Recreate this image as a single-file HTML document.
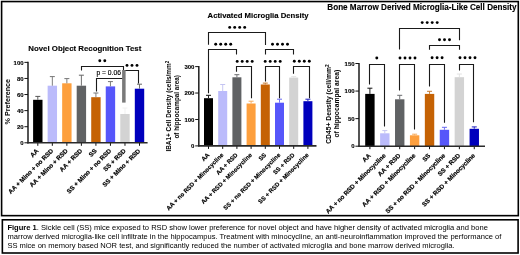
<!DOCTYPE html><html><head><meta charset="utf-8"><style>html,body{margin:0;padding:0;background:#fff;}svg{display:block;will-change:transform;}text{font-family:"Liberation Sans",sans-serif;fill:#000;}</style></head><body>
<svg width="520" height="255" viewBox="0 0 520 255">
<rect x="0" y="0" width="520" height="255" fill="#fff"/>
<rect x="1.6" y="1.55" width="516.7" height="214.1" fill="none" stroke="#000" stroke-width="1.6"/>
<rect x="2.35" y="219.8" width="515.75" height="33.2" fill="none" stroke="#000" stroke-width="1.6"/>
<line x1="28" y1="61.8" x2="28" y2="143.4" stroke="#2a2a2a" stroke-width="1.6"/>
<line x1="24.4" y1="142.8" x2="28" y2="142.8" stroke="#111" stroke-width="1"/>
<text x="23.6" y="144.96" text-anchor="end" font-weight="bold" font-size="6.0" stroke="#000" stroke-width="0.12">0</text>
<line x1="24.4" y1="126.71" x2="28" y2="126.71" stroke="#111" stroke-width="1"/>
<text x="23.6" y="128.87" text-anchor="end" font-weight="bold" font-size="6.0" stroke="#000" stroke-width="0.12">20</text>
<line x1="24.4" y1="110.62" x2="28" y2="110.62" stroke="#111" stroke-width="1"/>
<text x="23.6" y="112.78" text-anchor="end" font-weight="bold" font-size="6.0" stroke="#000" stroke-width="0.12">40</text>
<line x1="24.4" y1="94.54" x2="28" y2="94.54" stroke="#111" stroke-width="1"/>
<text x="23.6" y="96.7" text-anchor="end" font-weight="bold" font-size="6.0" stroke="#000" stroke-width="0.12">60</text>
<line x1="24.4" y1="78.45" x2="28" y2="78.45" stroke="#111" stroke-width="1"/>
<text x="23.6" y="80.61" text-anchor="end" font-weight="bold" font-size="6.0" stroke="#000" stroke-width="0.12">80</text>
<line x1="24.4" y1="62.36" x2="28" y2="62.36" stroke="#111" stroke-width="1"/>
<text x="23.6" y="64.52" text-anchor="end" font-weight="bold" font-size="6.0" stroke="#000" stroke-width="0.12">100</text>
<rect x="33.1" y="99.8" width="9.4" height="43" fill="#000000"/>
<line x1="37.8" y1="99.8" x2="37.8" y2="96.4" stroke="#555" stroke-width="0.95"/>
<line x1="35.3" y1="96.4" x2="40.3" y2="96.4" stroke="#555" stroke-width="1"/>
<line x1="37.8" y1="142.8" x2="37.8" y2="145.8" stroke="#111" stroke-width="1"/>
<text x="39.1" y="151.4" text-anchor="end" font-weight="bold" font-size="6.3" stroke="#000" stroke-width="0.18" transform="rotate(-45 39.1 151.4)">AA</text>
<rect x="47.63" y="85.7" width="9.4" height="57.1" fill="#bbbbfb"/>
<line x1="52.33" y1="85.7" x2="52.33" y2="76.6" stroke="#777" stroke-width="0.95"/>
<line x1="49.83" y1="76.6" x2="54.83" y2="76.6" stroke="#777" stroke-width="1"/>
<line x1="52.33" y1="142.8" x2="52.33" y2="145.8" stroke="#111" stroke-width="1"/>
<text x="53.63" y="151.4" text-anchor="end" font-weight="bold" font-size="6.3" stroke="#000" stroke-width="0.18" transform="rotate(-45 53.63 151.4)">AA + Mino + no RSD</text>
<rect x="62.16" y="83.3" width="9.4" height="59.5" fill="#fd9f3d"/>
<line x1="66.86" y1="83.3" x2="66.86" y2="78.6" stroke="#777" stroke-width="0.95"/>
<line x1="64.36" y1="78.6" x2="69.36" y2="78.6" stroke="#777" stroke-width="1"/>
<line x1="66.86" y1="142.8" x2="66.86" y2="145.8" stroke="#111" stroke-width="1"/>
<text x="68.16" y="151.4" text-anchor="end" font-weight="bold" font-size="6.3" stroke="#000" stroke-width="0.18" transform="rotate(-45 68.16 151.4)">AA + Mino + RSD</text>
<rect x="76.69" y="85.7" width="9.4" height="57.1" fill="#606264"/>
<line x1="81.39" y1="85.7" x2="81.39" y2="75.2" stroke="#666" stroke-width="0.95"/>
<line x1="78.89" y1="75.2" x2="83.89" y2="75.2" stroke="#666" stroke-width="1"/>
<line x1="81.39" y1="142.8" x2="81.39" y2="145.8" stroke="#111" stroke-width="1"/>
<text x="82.69" y="151.4" text-anchor="end" font-weight="bold" font-size="6.3" stroke="#000" stroke-width="0.18" transform="rotate(-45 82.69 151.4)">AA + RSD</text>
<rect x="91.22" y="97.2" width="9.4" height="45.6" fill="#c56204"/>
<line x1="95.92" y1="97.2" x2="95.92" y2="93" stroke="#777" stroke-width="0.95"/>
<line x1="93.42" y1="93" x2="98.42" y2="93" stroke="#777" stroke-width="1"/>
<line x1="95.92" y1="142.8" x2="95.92" y2="145.8" stroke="#111" stroke-width="1"/>
<text x="97.22" y="151.4" text-anchor="end" font-weight="bold" font-size="6.3" stroke="#000" stroke-width="0.18" transform="rotate(-45 97.22 151.4)">SS</text>
<rect x="105.75" y="86.4" width="9.4" height="56.4" fill="#5656fa"/>
<line x1="110.45" y1="86.4" x2="110.45" y2="81.6" stroke="#777" stroke-width="0.95"/>
<line x1="107.95" y1="81.6" x2="112.95" y2="81.6" stroke="#777" stroke-width="1"/>
<line x1="110.45" y1="142.8" x2="110.45" y2="145.8" stroke="#111" stroke-width="1"/>
<text x="111.75" y="151.4" text-anchor="end" font-weight="bold" font-size="6.3" stroke="#000" stroke-width="0.18" transform="rotate(-45 111.75 151.4)">SS + Mino + no RSD</text>
<rect x="120.28" y="114" width="9.4" height="28.8" fill="#d3d3d3"/>
<line x1="124.98" y1="114" x2="124.98" y2="108" stroke="#f0f0f0" stroke-width="0.95"/>
<line x1="122.48" y1="108" x2="127.48" y2="108" stroke="#f0f0f0" stroke-width="1"/>
<line x1="124.98" y1="142.8" x2="124.98" y2="145.8" stroke="#111" stroke-width="1"/>
<text x="126.28" y="151.4" text-anchor="end" font-weight="bold" font-size="6.3" stroke="#000" stroke-width="0.18" transform="rotate(-45 126.28 151.4)">SS + RSD</text>
<rect x="134.81" y="88.7" width="9.4" height="54.1" fill="#0000bd"/>
<line x1="139.51" y1="88.7" x2="139.51" y2="84.2" stroke="#666" stroke-width="0.95"/>
<line x1="137.01" y1="84.2" x2="142.01" y2="84.2" stroke="#666" stroke-width="1"/>
<line x1="139.51" y1="142.8" x2="139.51" y2="145.8" stroke="#111" stroke-width="1"/>
<text x="140.81" y="151.4" text-anchor="end" font-weight="bold" font-size="6.3" stroke="#000" stroke-width="0.18" transform="rotate(-45 140.81 151.4)">SS + Mino + RSD</text>
<line x1="27.4" y1="142.8" x2="147.6" y2="142.8" stroke="#2a2a2a" stroke-width="1.6"/>
<text x="28.3" y="51" font-weight="bold" font-size="7.84" stroke="#000" stroke-width="0.12">Novel Object Recognition Test</text>
<text x="9.6" y="101.7" text-anchor="middle" font-weight="bold" font-size="7.2" transform="rotate(-90 9.6 101.7)">% Preference</text>
<path d="M81.5 70.5V66.5H123.5V70.5" fill="none" stroke="#1a1a1a" stroke-width="1.1"/>
<path d="M96.5 91.5V78.5H123.5V79" fill="none" stroke="#1a1a1a" stroke-width="1.1"/>
<path d="M124.5 71V70.5H138.5V83.5" fill="none" stroke="#1a1a1a" stroke-width="1.1"/>
<circle cx="99.8" cy="60.8" r="1.45" fill="#000"/>
<circle cx="104.8" cy="60.8" r="1.45" fill="#000"/>
<circle cx="127" cy="65.4" r="1.45" fill="#000"/>
<circle cx="132" cy="65.4" r="1.45" fill="#000"/>
<circle cx="137" cy="65.4" r="1.45" fill="#000"/>
<line x1="198.8" y1="66" x2="198.8" y2="146.5" stroke="#2a2a2a" stroke-width="1.6"/>
<line x1="195.2" y1="145.9" x2="198.8" y2="145.9" stroke="#111" stroke-width="1"/>
<text x="194.4" y="148.06" text-anchor="end" font-weight="bold" font-size="6.0" stroke="#000" stroke-width="0.12">0</text>
<line x1="195.2" y1="119.47" x2="198.8" y2="119.47" stroke="#111" stroke-width="1"/>
<text x="194.4" y="121.63" text-anchor="end" font-weight="bold" font-size="6.0" stroke="#000" stroke-width="0.12">100</text>
<line x1="195.2" y1="93.04" x2="198.8" y2="93.04" stroke="#111" stroke-width="1"/>
<text x="194.4" y="95.2" text-anchor="end" font-weight="bold" font-size="6.0" stroke="#000" stroke-width="0.12">200</text>
<line x1="195.2" y1="66.61" x2="198.8" y2="66.61" stroke="#111" stroke-width="1"/>
<text x="194.4" y="68.77" text-anchor="end" font-weight="bold" font-size="6.0" stroke="#000" stroke-width="0.12">300</text>
<rect x="204" y="98.2" width="9" height="47.7" fill="#000000"/>
<line x1="208.5" y1="98.2" x2="208.5" y2="95.3" stroke="#111" stroke-width="0.95"/>
<line x1="206" y1="95.3" x2="211" y2="95.3" stroke="#111" stroke-width="1"/>
<line x1="208.5" y1="145.9" x2="208.5" y2="148.9" stroke="#111" stroke-width="1"/>
<text x="209.8" y="155.4" text-anchor="end" font-weight="bold" font-size="6.0" stroke="#000" stroke-width="0.18" transform="rotate(-45 209.8 155.4)">AA</text>
<rect x="218.2" y="91" width="9" height="54.9" fill="#bbbbfb"/>
<line x1="222.7" y1="91" x2="222.7" y2="84.5" stroke="#c4c4f2" stroke-width="0.95"/>
<line x1="220.2" y1="84.5" x2="225.2" y2="84.5" stroke="#c4c4f2" stroke-width="1"/>
<line x1="222.7" y1="145.9" x2="222.7" y2="148.9" stroke="#111" stroke-width="1"/>
<text x="224" y="155.4" text-anchor="end" font-weight="bold" font-size="6.0" stroke="#000" stroke-width="0.18" transform="rotate(-45 224 155.4)">AA + no RSD + Minocycline</text>
<rect x="232.4" y="77.3" width="9" height="68.6" fill="#606264"/>
<line x1="236.9" y1="77.3" x2="236.9" y2="74.7" stroke="#6a6c6e" stroke-width="0.95"/>
<line x1="234.4" y1="74.7" x2="239.4" y2="74.7" stroke="#6a6c6e" stroke-width="1"/>
<line x1="236.9" y1="145.9" x2="236.9" y2="148.9" stroke="#111" stroke-width="1"/>
<text x="238.2" y="155.4" text-anchor="end" font-weight="bold" font-size="6.0" stroke="#000" stroke-width="0.18" transform="rotate(-45 238.2 155.4)">AA + RSD</text>
<rect x="246.6" y="103.5" width="9" height="42.4" fill="#fd9f3d"/>
<line x1="251.1" y1="103.5" x2="251.1" y2="101.2" stroke="#f6ab5c" stroke-width="0.95"/>
<line x1="248.6" y1="101.2" x2="253.6" y2="101.2" stroke="#f6ab5c" stroke-width="1"/>
<line x1="251.1" y1="145.9" x2="251.1" y2="148.9" stroke="#111" stroke-width="1"/>
<text x="252.4" y="155.4" text-anchor="end" font-weight="bold" font-size="6.0" stroke="#000" stroke-width="0.18" transform="rotate(-45 252.4 155.4)">AA + RSD + Minocycline</text>
<rect x="260.8" y="84.5" width="9" height="61.4" fill="#c56204"/>
<line x1="265.3" y1="84.5" x2="265.3" y2="83.1" stroke="#c67a30" stroke-width="0.95"/>
<line x1="262.8" y1="83.1" x2="267.8" y2="83.1" stroke="#c67a30" stroke-width="1"/>
<line x1="265.3" y1="145.9" x2="265.3" y2="148.9" stroke="#111" stroke-width="1"/>
<text x="266.6" y="155.4" text-anchor="end" font-weight="bold" font-size="6.0" stroke="#000" stroke-width="0.18" transform="rotate(-45 266.6 155.4)">SS</text>
<rect x="275" y="102.7" width="9" height="43.2" fill="#5656fa"/>
<line x1="279.5" y1="102.7" x2="279.5" y2="99.2" stroke="#6a6af2" stroke-width="0.95"/>
<line x1="277" y1="99.2" x2="282" y2="99.2" stroke="#6a6af2" stroke-width="1"/>
<line x1="279.5" y1="145.9" x2="279.5" y2="148.9" stroke="#111" stroke-width="1"/>
<text x="280.8" y="155.4" text-anchor="end" font-weight="bold" font-size="6.0" stroke="#000" stroke-width="0.18" transform="rotate(-45 280.8 155.4)">SS + no RSD + Minocycline</text>
<rect x="289.2" y="77.6" width="9" height="68.3" fill="#d3d3d3"/>
<line x1="293.7" y1="77.6" x2="293.7" y2="76.7" stroke="#e2e2e2" stroke-width="0.95"/>
<line x1="291.2" y1="76.7" x2="296.2" y2="76.7" stroke="#e2e2e2" stroke-width="1"/>
<line x1="293.7" y1="145.9" x2="293.7" y2="148.9" stroke="#111" stroke-width="1"/>
<text x="295" y="155.4" text-anchor="end" font-weight="bold" font-size="6.0" stroke="#000" stroke-width="0.18" transform="rotate(-45 295 155.4)">SS + RSD</text>
<rect x="303.4" y="101.2" width="9" height="44.7" fill="#0000bd"/>
<line x1="307.9" y1="101.2" x2="307.9" y2="99.2" stroke="#2020c0" stroke-width="0.95"/>
<line x1="305.4" y1="99.2" x2="310.4" y2="99.2" stroke="#2020c0" stroke-width="1"/>
<line x1="307.9" y1="145.9" x2="307.9" y2="148.9" stroke="#111" stroke-width="1"/>
<text x="309.2" y="155.4" text-anchor="end" font-weight="bold" font-size="6.0" stroke="#000" stroke-width="0.18" transform="rotate(-45 309.2 155.4)">SS + RSD + Minocycline</text>
<line x1="198.2" y1="145.9" x2="316.5" y2="145.9" stroke="#2a2a2a" stroke-width="1.6"/>
<text x="207.6" y="18.1" font-weight="bold" font-size="7.74" stroke="#000" stroke-width="0.12">Activated Microglia Density</text>
<text x="171.5" y="106.1" text-anchor="middle" font-weight="bold" font-size="6.43" transform="rotate(-90 171.5 106.1)">IBA1+ Cell Density (cells/mm<tspan dy="-2" font-size="4.6">2</tspan></text>
<text x="178.9" y="106.85" text-anchor="middle" font-weight="bold" font-size="6.3" transform="rotate(-90 178.9 106.85)">of hippocampal area)</text>
<path d="M208.5 44.7V32.5H265.5V45" fill="none" stroke="#1a1a1a" stroke-width="1.1"/>
<path d="M208.5 93.3V49.5H236.5V54.5" fill="none" stroke="#1a1a1a" stroke-width="1.1"/>
<path d="M236.5 71.8V66.5H251.5V98.2" fill="none" stroke="#1a1a1a" stroke-width="1.1"/>
<path d="M265.5 54.4V49.5H293.5V54.4" fill="none" stroke="#1a1a1a" stroke-width="1.1"/>
<path d="M265.5 81.5V66.5H279.5V98.2" fill="none" stroke="#1a1a1a" stroke-width="1.1"/>
<path d="M293.5 73.7V66.5H309.5V98.2" fill="none" stroke="#1a1a1a" stroke-width="1.1"/>
<circle cx="229.7" cy="27.4" r="1.45" fill="#000"/>
<circle cx="234.7" cy="27.4" r="1.45" fill="#000"/>
<circle cx="239.7" cy="27.4" r="1.45" fill="#000"/>
<circle cx="244.7" cy="27.4" r="1.45" fill="#000"/>
<circle cx="215.7" cy="44.2" r="1.45" fill="#000"/>
<circle cx="220.7" cy="44.2" r="1.45" fill="#000"/>
<circle cx="225.7" cy="44.2" r="1.45" fill="#000"/>
<circle cx="230.7" cy="44.2" r="1.45" fill="#000"/>
<circle cx="237.2" cy="61.4" r="1.45" fill="#000"/>
<circle cx="242.2" cy="61.4" r="1.45" fill="#000"/>
<circle cx="247.2" cy="61.4" r="1.45" fill="#000"/>
<circle cx="252.2" cy="61.4" r="1.45" fill="#000"/>
<circle cx="272.5" cy="44.2" r="1.45" fill="#000"/>
<circle cx="277.5" cy="44.2" r="1.45" fill="#000"/>
<circle cx="282.5" cy="44.2" r="1.45" fill="#000"/>
<circle cx="287.5" cy="44.2" r="1.45" fill="#000"/>
<circle cx="265.2" cy="61.4" r="1.45" fill="#000"/>
<circle cx="270.2" cy="61.4" r="1.45" fill="#000"/>
<circle cx="275.2" cy="61.4" r="1.45" fill="#000"/>
<circle cx="280.2" cy="61.4" r="1.45" fill="#000"/>
<circle cx="294.3" cy="61.2" r="1.45" fill="#000"/>
<circle cx="299.3" cy="61.2" r="1.45" fill="#000"/>
<circle cx="304.3" cy="61.2" r="1.45" fill="#000"/>
<circle cx="309.3" cy="61.2" r="1.45" fill="#000"/>
<line x1="359" y1="62.9" x2="359" y2="146.8" stroke="#2a2a2a" stroke-width="1.6"/>
<line x1="355.4" y1="146.2" x2="359" y2="146.2" stroke="#111" stroke-width="1"/>
<text x="354.6" y="148.36" text-anchor="end" font-weight="bold" font-size="6.0" stroke="#000" stroke-width="0.12">0</text>
<line x1="355.4" y1="118.63" x2="359" y2="118.63" stroke="#111" stroke-width="1"/>
<text x="354.6" y="120.79" text-anchor="end" font-weight="bold" font-size="6.0" stroke="#000" stroke-width="0.12">50</text>
<line x1="355.4" y1="91.07" x2="359" y2="91.07" stroke="#111" stroke-width="1"/>
<text x="354.6" y="93.23" text-anchor="end" font-weight="bold" font-size="6.0" stroke="#000" stroke-width="0.12">100</text>
<line x1="355.4" y1="63.5" x2="359" y2="63.5" stroke="#111" stroke-width="1"/>
<text x="354.6" y="65.66" text-anchor="end" font-weight="bold" font-size="6.0" stroke="#000" stroke-width="0.12">150</text>
<rect x="365.2" y="93.9" width="9.4" height="52.3" fill="#000000"/>
<line x1="369.9" y1="93.9" x2="369.9" y2="88.2" stroke="#111" stroke-width="0.95"/>
<line x1="367.4" y1="88.2" x2="372.4" y2="88.2" stroke="#111" stroke-width="1"/>
<line x1="369.9" y1="146.2" x2="369.9" y2="149.2" stroke="#111" stroke-width="1"/>
<text x="371.2" y="156" text-anchor="end" font-weight="bold" font-size="6.3" stroke="#000" stroke-width="0.18" transform="rotate(-45 371.2 156)">AA</text>
<rect x="380.11" y="133.3" width="9.4" height="12.9" fill="#bbbbfb"/>
<line x1="384.81" y1="133.3" x2="384.81" y2="130.6" stroke="#c4c4f2" stroke-width="0.95"/>
<line x1="382.31" y1="130.6" x2="387.31" y2="130.6" stroke="#c4c4f2" stroke-width="1"/>
<line x1="384.81" y1="146.2" x2="384.81" y2="149.2" stroke="#111" stroke-width="1"/>
<text x="386.11" y="156" text-anchor="end" font-weight="bold" font-size="6.3" stroke="#000" stroke-width="0.18" transform="rotate(-45 386.11 156)">AA + no RSD + Minocycline</text>
<rect x="395.02" y="99.3" width="9.4" height="46.9" fill="#606264"/>
<line x1="399.72" y1="99.3" x2="399.72" y2="95.3" stroke="#6a6c6e" stroke-width="0.95"/>
<line x1="397.22" y1="95.3" x2="402.22" y2="95.3" stroke="#6a6c6e" stroke-width="1"/>
<line x1="399.72" y1="146.2" x2="399.72" y2="149.2" stroke="#111" stroke-width="1"/>
<text x="401.02" y="156" text-anchor="end" font-weight="bold" font-size="6.3" stroke="#000" stroke-width="0.18" transform="rotate(-45 401.02 156)">AA + RSD</text>
<rect x="409.93" y="135.3" width="9.4" height="10.9" fill="#fd9f3d"/>
<line x1="414.63" y1="135.3" x2="414.63" y2="134.2" stroke="#f6ab5c" stroke-width="0.95"/>
<line x1="412.13" y1="134.2" x2="417.13" y2="134.2" stroke="#f6ab5c" stroke-width="1"/>
<line x1="414.63" y1="146.2" x2="414.63" y2="149.2" stroke="#111" stroke-width="1"/>
<text x="415.93" y="156" text-anchor="end" font-weight="bold" font-size="6.3" stroke="#000" stroke-width="0.18" transform="rotate(-45 415.93 156)">AA + RSD + Minocycline</text>
<rect x="424.84" y="93.9" width="9.4" height="52.3" fill="#c56204"/>
<line x1="429.54" y1="93.9" x2="429.54" y2="91.3" stroke="#c67a30" stroke-width="0.95"/>
<line x1="427.04" y1="91.3" x2="432.04" y2="91.3" stroke="#c67a30" stroke-width="1"/>
<line x1="429.54" y1="146.2" x2="429.54" y2="149.2" stroke="#111" stroke-width="1"/>
<text x="430.84" y="156" text-anchor="end" font-weight="bold" font-size="6.3" stroke="#000" stroke-width="0.18" transform="rotate(-45 430.84 156)">SS</text>
<rect x="439.75" y="129.8" width="9.4" height="16.4" fill="#5656fa"/>
<line x1="444.45" y1="129.8" x2="444.45" y2="127.3" stroke="#6a6af2" stroke-width="0.95"/>
<line x1="441.95" y1="127.3" x2="446.95" y2="127.3" stroke="#6a6af2" stroke-width="1"/>
<line x1="444.45" y1="146.2" x2="444.45" y2="149.2" stroke="#111" stroke-width="1"/>
<text x="445.75" y="156" text-anchor="end" font-weight="bold" font-size="6.3" stroke="#000" stroke-width="0.18" transform="rotate(-45 445.75 156)">SS + no RSD + Minocycline</text>
<rect x="454.66" y="77.2" width="9.4" height="69" fill="#d3d3d3"/>
<line x1="459.36" y1="77.2" x2="459.36" y2="74" stroke="#e2e2e2" stroke-width="0.95"/>
<line x1="456.86" y1="74" x2="461.86" y2="74" stroke="#e2e2e2" stroke-width="1"/>
<line x1="459.36" y1="146.2" x2="459.36" y2="149.2" stroke="#111" stroke-width="1"/>
<text x="460.66" y="156" text-anchor="end" font-weight="bold" font-size="6.3" stroke="#000" stroke-width="0.18" transform="rotate(-45 460.66 156)">SS + RSD</text>
<rect x="469.57" y="128.8" width="9.4" height="17.4" fill="#0000bd"/>
<line x1="474.27" y1="128.8" x2="474.27" y2="126.9" stroke="#2020c0" stroke-width="0.95"/>
<line x1="471.77" y1="126.9" x2="476.77" y2="126.9" stroke="#2020c0" stroke-width="1"/>
<line x1="474.27" y1="146.2" x2="474.27" y2="149.2" stroke="#111" stroke-width="1"/>
<text x="475.57" y="156" text-anchor="end" font-weight="bold" font-size="6.3" stroke="#000" stroke-width="0.18" transform="rotate(-45 475.57 156)">SS + RSD + Minocycline</text>
<line x1="358.4" y1="146.2" x2="485" y2="146.2" stroke="#2a2a2a" stroke-width="1.6"/>
<text x="327.3" y="9.5" font-weight="bold" font-size="8.13" stroke="#000" stroke-width="0.12">Bone Marrow Derived Microglia-Like Cell Density</text>
<text x="331" y="104.1" text-anchor="middle" font-weight="bold" font-size="6.76" transform="rotate(-90 331 104.1)">CD45+ Density (cell/mm<tspan dy="-2.1" font-size="4.8">2</tspan></text>
<text x="338.75" y="103.7" text-anchor="middle" font-weight="bold" font-size="6.74" transform="rotate(-90 338.75 103.7)">of hippocampal area)</text>
<path d="M399.5 49.6V28.5H459.5V40.2" fill="none" stroke="#1a1a1a" stroke-width="1.1"/>
<path d="M429.5 49.7V45.5H459.5V49.7" fill="none" stroke="#1a1a1a" stroke-width="1.1"/>
<path d="M369.5 84.5V64.5H384.5V126.6" fill="none" stroke="#1a1a1a" stroke-width="1.1"/>
<path d="M399.5 90.6V64.5H414.5V129.4" fill="none" stroke="#1a1a1a" stroke-width="1.1"/>
<path d="M429.5 86.6V64.5H444.5V122.7" fill="none" stroke="#1a1a1a" stroke-width="1.1"/>
<path d="M459.5 70.5V64.5H473.5V122.3" fill="none" stroke="#1a1a1a" stroke-width="1.1"/>
<circle cx="422.2" cy="22.6" r="1.45" fill="#000"/>
<circle cx="427.2" cy="22.6" r="1.45" fill="#000"/>
<circle cx="432.2" cy="22.6" r="1.45" fill="#000"/>
<circle cx="437.2" cy="22.6" r="1.45" fill="#000"/>
<circle cx="439.5" cy="39.8" r="1.45" fill="#000"/>
<circle cx="444.5" cy="39.8" r="1.45" fill="#000"/>
<circle cx="449.5" cy="39.8" r="1.45" fill="#000"/>
<circle cx="376.8" cy="58" r="1.45" fill="#000"/>
<circle cx="400" cy="58" r="1.45" fill="#000"/>
<circle cx="405" cy="58" r="1.45" fill="#000"/>
<circle cx="410" cy="58" r="1.45" fill="#000"/>
<circle cx="415" cy="58" r="1.45" fill="#000"/>
<circle cx="432.1" cy="57.8" r="1.45" fill="#000"/>
<circle cx="437.1" cy="57.8" r="1.45" fill="#000"/>
<circle cx="442.1" cy="57.8" r="1.45" fill="#000"/>
<circle cx="460" cy="57.8" r="1.45" fill="#000"/>
<circle cx="465" cy="57.8" r="1.45" fill="#000"/>
<circle cx="470" cy="57.8" r="1.45" fill="#000"/>
<circle cx="475" cy="57.8" r="1.45" fill="#000"/>
<rect x="122.1" y="70" width="3.5" height="32.6" fill="#7a7a7a"/>
<text x="108.7" y="74.9" text-anchor="middle" font-size="6.75" stroke="#000" stroke-width="0.15">p = 0.06</text>
<text x="7.4" y="229.6" font-size="7.57"><tspan font-weight="bold">Figure 1</tspan>. Sickle cell (SS) mice exposed to RSD show lower preference for novel object and have higher density of activated microglia and bone</text>
<text x="7.4" y="238.85" font-size="7.57">marrow derived microglia-like cell infiltrate in the hippocampus. Treatment with minocycline, an anti-neuroinflammation improved the performance of</text>
<text x="7.4" y="248.1" font-size="7.57">SS mice on memory based NOR test, and significantly reduced the number of activated microglia and bone marrow derived microglia.</text>
</svg></body></html>
